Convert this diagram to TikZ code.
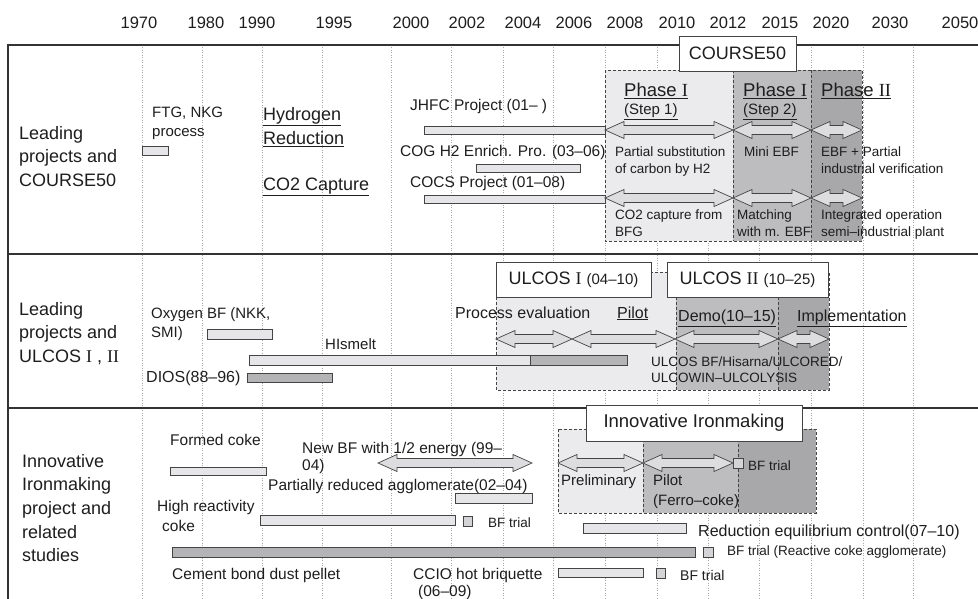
\documentclass[tikz,border=0pt]{standalone}
\usepackage{fontspec}
\setmainfont{Liberation Sans}
\newfontfamily\romnum{Liberation Serif}
\newcommand\RI{{\romnum I}}
\newcommand\RII{{\romnum II}}
% block double arrow: #1 left tip x, #2 right tip x, #3 centre y
\newcommand\fatarrow[3]{%
  \draw[fatarr] (#1,#3) -- (#1+19,#3-8.5) -- (#1+19,#3-4.5) -- (#2-19,#3-4.5)
    -- (#2-19,#3-8.5) -- (#2,#3) -- (#2-19,#3+8.5) -- (#2-19,#3+4.5)
    -- (#1+19,#3+4.5) -- (#1+19,#3+8.5) -- cycle;}
\definecolor{ink}{HTML}{1E1E1E}
\definecolor{edge}{HTML}{444444}
\definecolor{gridc}{HTML}{A8A8A8}
\definecolor{regA}{HTML}{EBEBED}
\definecolor{regB}{HTML}{BDBDC0}
\definecolor{regC}{HTML}{A8A8AA}
\definecolor{barA}{HTML}{E6E6E8}
\definecolor{barB}{HTML}{B4B4B6}
\definecolor{arrfill}{HTML}{DDDDDF}
\definecolor{sqfill}{HTML}{D4D4D6}
\begin{document}
\begin{tikzpicture}[x=1pt,y=-1pt,
  txt/.style={anchor=base west, inner sep=0pt, text=ink},
  f18/.style={font=\fontsize{18}{23.5}\selectfont},
  f185/.style={font=\fontsize{18.5}{23.5}\selectfont},
  f16/.style={font=\fontsize{16}{19}\selectfont},
  f155/.style={font=\fontsize{15.5}{18}\selectfont},
  f15/.style={font=\fontsize{15}{19}\selectfont},
  f14/.style={font=\fontsize{14}{17}\selectfont},
  f135/.style={font=\fontsize{13.5}{17.5}\selectfont},
  yearlbl/.style={anchor=base, inner sep=0pt, text=ink, font=\fontsize{16.5}{20}\selectfont},
  gridline/.style={gridc, line width=0.5pt, dotted},
  frame/.style={draw=black!80, line width=1.1pt},
  regedge/.style={draw=edge, line width=0.8pt, dash pattern=on 3pt off 2pt},
  barlight/.style={draw=edge, fill=barA, line width=0.7pt},
  bardark/.style={draw=edge, fill=barB, line width=0.7pt},
  sqbox/.style={draw=edge, fill=sqfill, line width=0.7pt},
  fatarr/.style={draw=edge, fill=arrfill, line width=0.7pt, line join=miter},
  titlebox/.style={draw=edge, fill=white, line width=0.9pt, inner sep=0pt, text=ink}
]
\useasboundingbox (0,0) rectangle (978,599);
\fill[white] (0,0) rectangle (978,599);

% time axis
\foreach \gx in {142,202,262,322,391,451,503,553,605,657,708,759,811,863,913}
  \draw[gridline] (\gx,45) -- (\gx,599);
\foreach \yr/\cx in {1970/139,1980/206,1990/257,1995/334,2000/411,2002/467,
    2004/523,2006/574,2008/625,2010/677,2012/728,2015/780,2020/831,2030/890,2050/960}
  \node[yearlbl] (y\yr) at (\cx,28.4) {\yr};

% table frame and row separators
\draw[frame] (978,45) -- (8,45) -- (8,599);
\draw[frame] (8,254) -- (978,254);
\draw[frame] (8,408) -- (978,408);

% ---------- row 1: COURSE50 ----------
\fill[regA] (605,70) rectangle (733,241);
\fill[regB] (733,70) rectangle (811,241);
\fill[regC] (811,70) rectangle (862,241);
\draw[regedge] (605,70) rectangle (862,241);
\draw[regedge] (733,70) -- (733,241);
\draw[regedge] (811,70) -- (811,241);

\draw[barlight] (142,146) rectangle (168,155);
\draw[barlight] (424,126) rectangle (605,134);
\draw[barlight] (476,164) rectangle (580,172);
\draw[barlight] (424,195) rectangle (605,203);

\fatarrow{605}{733}{130}
\fatarrow{733}{811}{130}
\fatarrow{811}{862}{130}
\fatarrow{605}{733}{198}
\fatarrow{733}{811}{198}
\fatarrow{811}{862}{198}

\node[titlebox, f18, minimum width=117pt, minimum height=35pt] (c50) at (737.5,53.5) {COURSE50};

\node[txt,f18] (lab1) at (19,139.5) {\vtop{\hbox{Leading}\hbox{projects and}\hbox{COURSE50}}};
\node[txt,f15] (ftg) at (152,117.5) {\vtop{\hbox{FTG, NKG}\hbox{process}}};
\node[txt,f18] (hyd) at (263,120.5) {\underline{Hydrogen}};
\node[txt,f18] (red) at (263,145) {\underline{Reduction}};
\node[txt,f18] (cap) at (263,190) {\underline{CO2 Capture}};
\node[txt,f155] (jhfc) at (410,110.7) {JHFC Project (01– )};
\node[txt,f155] (cog) at (400,156.5) {COG H2 Enrich. Pro. (03–06)};
\node[txt,f155] (cocs) at (410,188) {COCS Project (01–08)};

\node[txt,f185] (ph1) at (624,96.5) {\underline{Phase \RI}};
\node[txt,f15] (st1) at (624,115) {\underline{(Step 1)}};
\node[txt,f185] (ph1b) at (743,96.5) {\underline{Phase \RI}};
\node[txt,f15] (st2) at (743,115) {\underline{(Step 2)}};
\node[txt,f185] (ph2) at (821,96.5) {\underline{Phase \RII}};

\node[txt,f135] (psub) at (615,156.5) {\vtop{\hbox{Partial substitution}\hbox{of carbon by H2}}};
\node[txt,f135] (mebf) at (744,156.5) {Mini EBF};
\node[txt,f135] (ebfp) at (821,156.5) {\vtop{\hbox{EBF + Partial}\hbox{industrial verification}}};
\node[txt,f135] (co2c) at (615,219) {\vtop{\hbox{CO2 capture from}\hbox{BFG}}};
\node[txt,f135] (mtch) at (737,219) {\vtop{\hbox{Matching}\hbox{with m. EBF}}};
\node[txt,f135] (integ) at (821,219) {\vtop{\hbox{Integrated operation}\hbox{semi–industrial plant}}};

% ---------- row 2: ULCOS ----------
\fill[regA] (496,272) rectangle (676,390);
\fill[regB] (676,272) rectangle (778,390);
\fill[regC] (778,272) rectangle (829,390);
\draw[regedge] (496,272) rectangle (829,390);
\draw[regedge] (676,272) -- (676,390);
\draw[regedge] (778,272) -- (778,390);

\draw[barlight] (207,329) rectangle (272,339);
\draw[barlight] (249,355) rectangle (530,365);
\draw[bardark] (530,355) rectangle (627,365);
\draw[bardark] (247,373) rectangle (332,382);

\fatarrow{496}{572}{339}
\fatarrow{572}{675}{339}
\fatarrow{675}{778}{339}
\fatarrow{778}{829}{339}

\node[titlebox, f18, minimum width=155pt, minimum height=35pt] (ul1) at (573.5,279.5)
  {ULCOS \RI\ {\fontsize{15}{18}\selectfont(04–10)}};
\node[titlebox, f18, minimum width=161pt, minimum height=35pt] (ul2) at (747.5,279.5)
  {ULCOS \RII\ {\fontsize{15}{18}\selectfont(10–25)}};

\node[txt,f18] (lab2) at (19,315) {\vtop{\hbox{Leading}\hbox{projects and}\hbox{ULCOS \RI\ , \RII}}};
\node[txt,f15] (oxy) at (151,318.3) {\vtop{\hbox{Oxygen BF (NKK,}\hbox{SMI)}}};
\node[txt,f15] (hism) at (325,349) {HIsmelt};
\node[txt,f16] (dios) at (146,382) {DIOS(88–96)};
\node[txt,f16] (proc) at (455,318) {Process evaluation};
\node[txt,f16] (pilot) at (617,318) {\underline{Pilot}};
\node[txt,f16] (demo) at (678,321.5) {\underline{Demo(10–15)}};
\node[txt,f16] (impl) at (797,321.5) {\underline{Implementation}};
\node[txt,f135,font=\fontsize{13.5}{16.7}\selectfont] (ulbf) at (651,366)
  {\vtop{\hbox{ULCOS BF/Hisarna/ULCORED/}\hbox{ULCOWIN–ULCOLYSIS}}};

% ---------- row 3: Innovative Ironmaking ----------
\fill[regA] (558,429) rectangle (643,513);
\fill[regB] (643,429) rectangle (738,513);
\fill[regC] (738,429) rectangle (816,513);
\draw[regedge] (558,429) rectangle (816,513);
\draw[regedge] (643,429) -- (643,513);
\draw[regedge] (738,429) -- (738,513);

\draw[barlight] (170,467) rectangle (266,475);
\draw[barlight] (455,493) rectangle (532,503);
\draw[barlight] (260,515) rectangle (455,525);
\draw[sqbox] (463,516) rectangle (472,526);
\draw[barlight] (583,523) rectangle (686,533);
\draw[bardark] (172,547) rectangle (695,557);
\draw[sqbox] (703,547) rectangle (713,557);
\draw[barlight] (558,568) rectangle (643,577);
\draw[sqbox] (656,568) rectangle (665,578);

\fatarrow{378}{532}{463}
\fatarrow{558}{643}{463}
\fatarrow{643}{733}{463}
\draw[sqbox] (733,458) rectangle (743,468);

\node[titlebox, f185, minimum width=216pt, minimum height=36pt] (inno) at (694,423) {Innovative Ironmaking};

\node[txt,f18,font=\fontsize{18}{23.7}\selectfont] (lab3) at (22,467)
  {\vtop{\hbox{Innovative}\hbox{Ironmaking}\hbox{project and}\hbox{related}\hbox{studies}}};
\node[txt,f155] (form) at (170,445) {Formed coke};
\node[txt,f155,font=\fontsize{15.5}{17.7}\selectfont] (newbf) at (302,453)
  {\vtop{\hbox{New BF with 1/2 energy (99–}\hbox{04)}}};
\node[txt,f155] (pra) at (268,490) {Partially reduced agglomerate(02–04)};
\node[txt,f155,font=\fontsize{15.5}{20}\selectfont] (high) at (157,511.7)
  {\vtop{\hbox{High reactivity}\hbox{\kern5pt coke}}};
\node[txt,f135] (bft1) at (488,527) {BF trial};
\node[txt,f15] (prel) at (561,485) {Preliminary};
\node[txt,f15,font=\fontsize{15}{20}\selectfont] (pil2) at (653,485) {\vtop{\hbox{Pilot}\hbox{(Ferro–coke)}}};
\node[txt,f135] (bft0) at (748,470) {BF trial};
\node[txt,f16] (rec) at (698,536.7) {Reduction equilibrium control(07–10)};
\node[txt,f155] (cem) at (172,579) {Cement bond dust pellet};
\node[txt,f135] (bft2) at (727,555.7) {BF trial (Reactive coke agglomerate)};
\node[txt,f155,font=\fontsize{15.5}{17}\selectfont] (ccio) at (413,579)
  {\vtop{\hbox{CCIO hot briquette}\hbox{\kern5pt(06–09)}}};
\node[txt,f14] (bft3) at (680,580) {BF trial};
\end{tikzpicture}
\end{document}
